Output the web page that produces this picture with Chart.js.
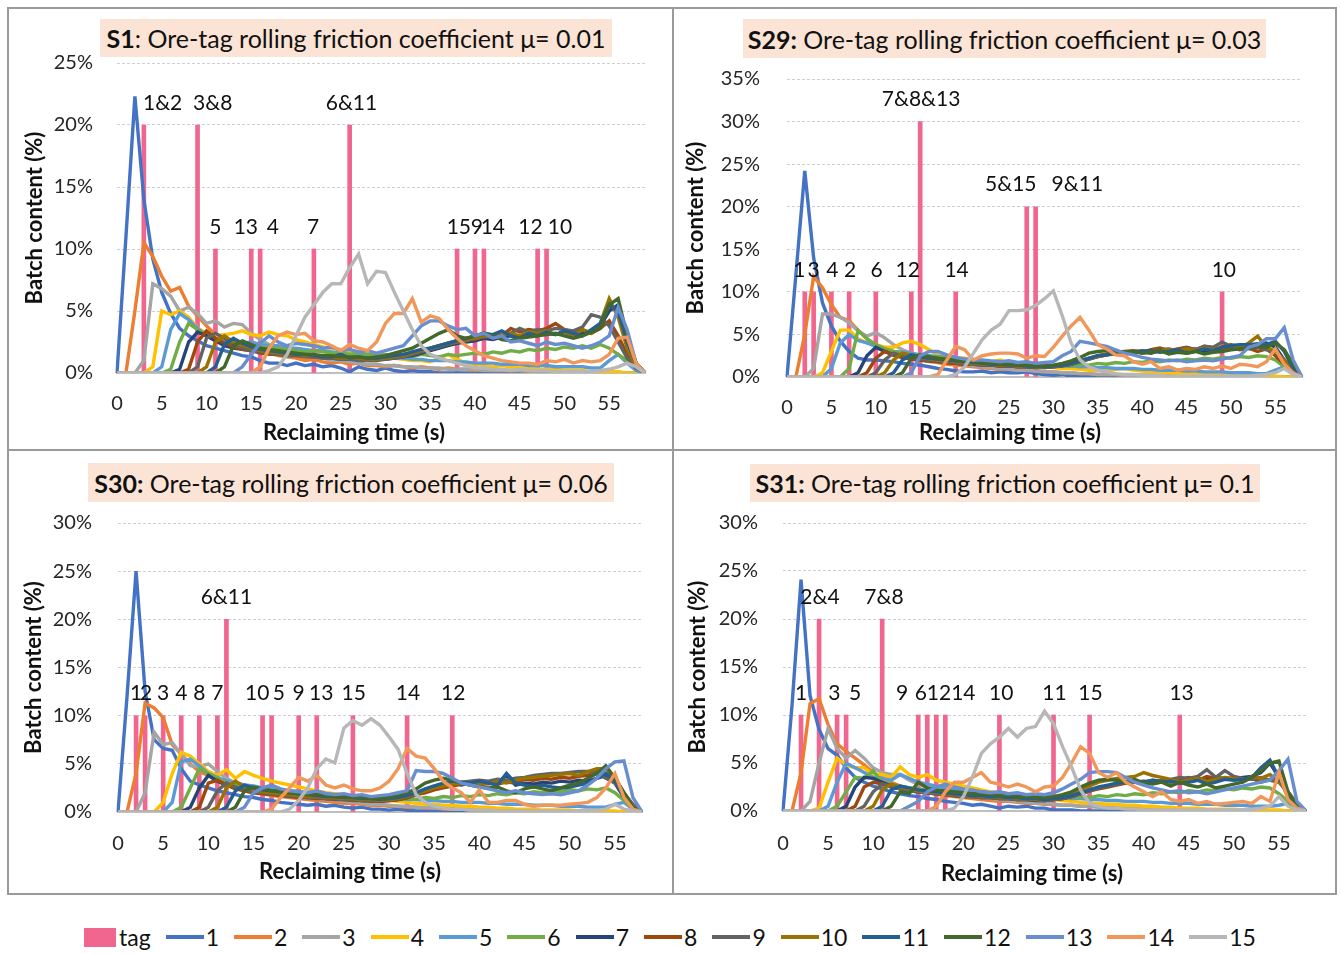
<!DOCTYPE html>
<html>
<head>
<meta charset="utf-8">
<script src="https://cdn.jsdelivr.net/npm/chart.js@4.4.1/dist/chart.umd.min.js"></script>
<style>
  body { margin: 0; width: 1341px; height: 954px; background: #fff; position: relative; overflow: hidden; font-family: Lato, sans-serif; }
  .frame { position: absolute; border: 2px solid #9a9a9a; box-sizing: border-box; }
  canvas { position: absolute; }
  .title { position: absolute; background: #FBE4D5; color: #111; font-size: 25px; white-space: nowrap;
           display: flex; align-items: center; justify-content: center; }
  .xt { position: absolute; width: 300px; margin-left: -150px; text-align: center; font-weight: bold; font-size: 22px;
        color: #111; line-height: 26px; margin-top: -13px; }
  #legend { position: absolute; left: 84px; top: 922px; height: 30px; display: flex; align-items: center; font-size: 23px; color: #111; }
  .sq { display: inline-block; width: 32px; height: 19px; margin-right: 3px; }
  .ln { display: inline-block; width: 38px; height: 4px; margin: 0 2px 0 15px; }
</style>
</head>
<body>
<div class="frame" style="left:7px;top:7px;width:667px;height:444px"></div>
<div class="frame" style="left:672px;top:7px;width:665px;height:444px"></div>
<div class="frame" style="left:7px;top:449px;width:667px;height:446px"></div>
<div class="frame" style="left:672px;top:449px;width:665px;height:446px"></div>

<canvas id="c1" width="664" height="441" style="left:8px;top:8px"></canvas>
<canvas id="c2" width="663" height="441" style="left:673px;top:8px"></canvas>
<canvas id="c3" width="664" height="443" style="left:8px;top:450px"></canvas>
<canvas id="c4" width="663" height="443" style="left:673px;top:450px"></canvas>

<div class="title" style="left:100px;top:19px;width:512px;height:38px"><span><b>S1</b>: Ore-tag rolling friction coefficient μ= 0.01</span></div>
<div class="title" style="left:743px;top:19px;width:523px;height:39px"><span><b>S29:</b> Ore-tag rolling friction coefficient μ= 0.03</span></div>
<div class="title" style="left:88px;top:463px;width:526px;height:39px"><span><b>S30:</b> Ore-tag rolling friction coefficient μ= 0.06</span></div>
<div class="title" style="left:750px;top:464px;width:510px;height:38px"><span><b>S31:</b> Ore-tag rolling friction coefficient μ= 0.1</span></div>

<div class="xt" style="left:354px;top:432px">Reclaiming time (s)</div>
<div class="xt" style="left:1010px;top:432px">Reclaiming time (s)</div>
<div class="xt" style="left:350px;top:871px">Reclaiming time (s)</div>
<div class="xt" style="left:1032px;top:873px">Reclaiming time (s)</div>

<div id="legend"></div>

<script>
// categories (reclaiming time, s)
const times60 = [0,1,2,3,4,5,6,7,8,9,10,11,12,13,14,15,16,17,18,19,20,21,22,23,24,25,26,27,28,29,
  30,31,32,33,34,35,36,37,38,39,40,41,42,43,44,45,46,47,48,49,50,51,52,53,54,55,56,57,58,59];
const times59 = [0,1,2,3,4,5,6,7,8,9,10,11,12,13,14,15,16,17,18,19,20,21,22,23,24,25,26,27,28,29,
  30,31,32,33,34,35,36,37,38,39,40,41,42,43,44,45,46,47,48,49,50,51,52,53,54,55,56,57,58];

const seriesNames = ['1','2','3','4','5','6','7','8','9','10','11','12','13','14','15'];
const seriesColors = ['#4472C4','#ED7D31','#A5A5A5','#FFC000','#5B9BD5','#70AD47','#264478','#9E480E',
  '#636363','#997300','#255E91','#43682B','#698ED0','#F1975A','#B7B7B7'];
const TAG_COLOR = '#F0668F';

// ---------- S1 (mu = 0.01) ----------
const S1_1 = [0,11,22.3,14,9.2,6.5,4.8,3.6,3.0,2.6, 2.2,2.0,1.8,1.6,1.4,1.3,1.0,0.8,0.8,0.6,
  0.8,0.6,0.7,0.5,0.6,0.4,0.1,0.5,0.3,0.2, 0.4,0.2,0.1,0.2,0.1,0.1,0,0,0,0, 0,0,0,0,0,0,0,0,0,0, 0,0,0,0,0,0,0,0,0,0];
const S1_2 = [0,0,5,10.5,9.4,7.8,6.6,6.9,5.4,4.6, 3.8,3.1,2.6,2.2,2.0,1.9,1.7,1.6,1.4,1.3,
  1.2,1.0,1.1,0.9,0.8,0.9,0.7,0.8,0.6,0.6, 0.5,0.6,0.5,0.4,0.5,0.4,0.3,0.4,0.3,0.3,
  0.2,0.3,0.2,0.2,0.2,0.2,0.1,0.2,0.1,0.1, 0.1,0.1,0.1,0.1,0.1,0.1,0,0,0,0];
const S1_3 = [0,0,0,1.0,7.2,6.8,6.2,5.0,5.3,4.8, 4.0,4.2,3.7,4.0,3.9,3.2,2.7,2.3,2.0,1.8,
  1.6,1.5,1.3,1.2,1.0,1.0,0.9,0.8,0.7,0.7, 0.6,0.6,0.5,0.5,0.4,0.4,0.4,0.3,0.3,0.3,
  0.3,0.2,0.2,0.2,0.2,0.2,0.2,0.1,0.1,0.1, 0.1,0.1,0.1,0.1,0.1,0.1,0,0,0,0];
const S1_4 = [0,0,0,0,0.5,5.0,4.7,5.0,4.5,3.6, 3.2,3.0,3.1,3.2,3.4,3.1,3.0,3.3,3.1,3.0,
  2.7,2.5,2.3,2.1,2.0,1.9,1.7,1.6,1.5,1.4, 1.3,1.2,1.1,1.0,1.0,0.9,1.2,1.5,1.1,0.8,
  0.7,0.6,0.5,0.6,0.5,0.4,0.4,0.3,0.3,0.3, 0.2,0.2,0.2,0.1,0.1,0.1,0.1,0,0,0];
const S1_5 = [0,0,0,0,0,0.5,3.5,4.8,4.3,3.6, 3.0,2.7,2.5,2.6,2.4,2.5,2.3,2.2,2.2,2.0,
  2.0,1.9,1.8,1.8,1.7,1.6,1.5,1.5,1.4,1.3, 1.3,1.2,1.2,1.1,1.1,1.0,1.0,1.0,0.9,0.9,
  0.8,0.8,0.8,0.7,0.7,0.7,0.6,0.6,0.6,0.5, 0.5,0.5,0.5,0.4,0.4,1.0,1.5,0.8,0.2,0];
const S1_6 = [0,0,0,0,0,0,0.3,2.5,4.0,3.5, 3.0,2.6,2.4,2.2,2.4,2.2,2.1,2.0,2.0,1.9,
  1.8,1.7,1.8,1.7,1.6,1.6,1.5,1.6,1.5,1.4, 1.5,1.4,1.4,1.3,1.5,1.4,1.3,1.5,1.4,1.5,
  1.6,1.5,1.7,1.6,1.8,1.7,1.9,1.8,2.0,1.9, 2.1,2.0,2.2,2.0,2.3,2.0,1.5,1.0,0.5,0];
const S1_7 = [0,0,0,0,0,0,0,0.3,2.5,3.3, 3.0,2.6,2.2,2.0,1.9,1.8,1.7,1.6,1.6,1.5,
  1.5,1.4,1.4,1.3,1.3,1.2,1.2,1.2,1.1,1.1, 1.1,1.2,1.3,1.4,1.6,1.8,2.0,2.2,2.4,2.5,
  2.6,2.8,2.7,2.9,3.0,2.8,3.1,3.0,3.2,3.1, 3.3,3.0,3.2,3.4,3.8,5.0,5.5,3.0,0.8,0];
const S1_8 = [0,0,0,0,0,0,0,0,0.3,2.5, 3.4,2.8,2.4,2.1,1.9,1.8,1.6,1.5,1.5,1.4,
  1.4,1.3,1.3,1.2,1.2,1.1,1.1,1.1,1.2,1.2, 1.3,1.4,1.5,1.6,1.8,2.0,2.2,2.4,2.6,2.8,
  2.7,3.0,2.9,3.0,3.6,3.3,3.5,3.4,3.6,4.0, 3.5,3.3,3.5,3.2,3.6,4.2,3.0,1.5,0.5,0];
const S1_9 = [0,0,0,0,0,0,0,0,0,0.5, 2.8,3.2,2.8,2.3,2.0,1.8,1.7,1.6,1.5,1.4,
  1.4,1.3,1.3,1.2,1.2,1.1,1.1,1.0,1.0,1.0, 1.1,1.2,1.3,1.5,1.7,1.9,2.1,2.3,2.5,2.6,
  2.8,2.9,3.0,3.1,3.2,3.6,3.3,3.5,3.4,3.6, 3.5,3.4,3.7,4.7,4.5,3.8,2.5,1.2,0.4,0];
const S1_10 = [0,0,0,0,0,0,0,0,0,0, 0.5,2.5,3.0,2.5,2.2,2.0,1.8,1.7,1.6,1.5,
  1.5,1.4,1.4,1.3,1.3,1.2,1.2,1.2,1.1,1.1, 1.2,1.3,1.4,1.6,1.8,2.0,2.2,2.4,2.5,2.7,
  2.8,3.0,2.9,3.1,3.2,3.0,3.3,3.2,3.4,3.1, 3.3,3.0,3.5,3.2,4.0,6.0,4.5,2.0,0.5,0];
const S1_11 = [0,0,0,0,0,0,0,0,0,0, 0,0.5,2.3,2.8,2.4,2.1,1.9,1.8,1.7,1.6,
  1.5,1.5,1.4,1.3,1.3,1.5,1.2,1.3,1.2,1.2, 1.3,1.4,1.5,1.7,1.9,2.0,2.2,2.4,2.6,2.8,
  3.0,3.2,3.1,3.4,3.0,2.8,3.2,3.0,3.3,3.1, 3.4,3.2,3.0,3.5,4.0,5.5,5.0,2.5,0.8,0];
const S1_12 = [0,0,0,0,0,0,0,0,0,0, 0,0,0.5,2.2,2.6,2.3,2.0,1.9,1.8,1.7,
  1.6,1.5,1.5,1.4,1.4,1.3,1.3,1.3,1.2,1.3, 1.4,1.6,1.8,2.0,2.4,2.8,3.2,3.5,3.0,2.8,
  3.0,3.2,3.0,2.7,2.6,2.8,2.9,3.0,3.1,3.2, 3.0,2.8,3.0,3.3,3.6,5.5,6.0,3.0,0.8,0];
const S1_13 = [0,0,0,0,0,0,0,0,0,0, 0,0,0,0,0.5,1.5,2.4,3.0,2.5,2.2,
  2.4,2.3,2.2,2.0,2.1,1.8,1.9,1.7,1.8,1.6, 1.8,2.0,2.2,3.0,3.8,4.2,4.2,3.8,3.5,3.6,
  3.0,3.2,2.8,3.0,2.5,2.6,2.4,2.2,2.5,2.3, 2.4,2.2,2.0,2.2,2.5,3.0,5.3,3.5,0.8,0];
const S1_14 = [0,0,0,0,0,0,0,0,0,0, 0,0,0,0,0,0,0.5,2.0,3.0,3.3,
  3.1,3.2,2.6,2.5,2.2,1.8,2.3,2.0,1.8,2.5, 4.0,4.8,4.8,6.0,4.1,4.6,4.4,3.5,2.8,2.2,
  1.8,1.4,1.2,1.0,0.9,0.8,0.8,0.7,1.0,0.9, 1.1,0.8,1.0,0.9,1.0,1.5,2.8,2.9,0.8,0];
const S1_15 = [0,0,0,0,0,0,0,0,0,0, 0,0,0,0,0,0,0,0.2,0.5,1.5,
  3.0,4.5,5.5,6.5,7.2,7.2,8.5,9.6,7.2,8.2, 8.1,6.5,5.0,3.5,2.2,1.5,1.2,1.0,0.8,0.6,
  0.4,0.4,0.3,0.3,0.2,0.3,0.2,0.2,0.2,0.1, 0.1,0.1,0.1,0.1,0.2,0.3,0.5,0.8,0.5,0];
const S1_tagAt = [3,9,11,15,16,22,26,38,40,41,47,48];
const S1_tagVal = [20,20,10,10,10,10,20,10,10,10,10,10];
const S1_lblText = ['1&2','3&8','5','13','4','7','6&11','15','9','14','12','10'];
const S1_lblAt = [5.1,10.7,11,14.4,17.4,21.9,26.2,38.2,40.2,42.0,46.2,49.5];
const S1_lblLevel = [20,20,10,10,10,10,20,10,10,10,10,10];

// ---------- S29 (mu = 0.03) ----------
const S29_1 = [0,12,24.2,14,8.7,6.0,4.2,3.0,2.2,2.0, 2.0,1.9,1.8,1.6,1.5,1.4,1.2,1.0,0.9,0.7,
  0.6,0.6,0.7,0.5,0.6,0.5,0.5,0.6,0.4,0.3, 0.2,0.3,0.1,0.2,0.1,0,0,0,0,0, 0,0,0,0,0,0,0,0,0,0, 0,0,0,0,0,0,0,0,0];
const S29_2 = [0,0,5.0,11.8,10.5,8.5,7.0,6.6,5.5,4.5, 3.6,3.0,2.6,2.3,2.1,2.0,1.8,1.7,1.5,1.4,
  1.3,1.2,1.1,1.0,0.9,0.9,0.8,0.8,0.7,0.6, 0.6,0.5,0.5,0.4,0.4,0.3,0.3,0.3,0.2,0.2,
  0.2,0.2,0.1,0.2,0.1,0.1,0.1,0.1,0.1,0.1, 0.1,0.1,0,0,0,0,0,0,0];
const S29_3 = [0,0,0,1.0,7.4,7.4,7.0,6.4,5.4,4.8, 5.2,4.6,3.8,3.2,2.8,2.5,2.2,2.0,1.8,1.6,
  1.5,1.3,1.2,1.1,1.0,0.9,0.8,0.8,0.7,0.6, 0.6,0.5,0.5,0.4,0.4,0.3,0.3,0.3,0.2,0.2,
  0.2,0.2,0.2,0.1,0.1,0.1,0.1,0.1,0.1,0.1, 0.1,0.1,0.1,0,0,0,0,0,0];
const S29_4 = [0,0,0,0,0.5,3.0,5.5,5.5,4.5,4.0, 3.8,3.5,3.5,4.0,4.2,3.8,3.2,2.6,2.5,2.3,
  2.2,2.0,1.9,1.8,2.0,1.6,1.5,1.4,1.3,1.2, 1.1,1.0,1.0,0.9,0.8,0.8,0.7,0.9,1.0,0.8,
  0.7,0.6,0.5,0.5,0.4,0.4,0.3,0.3,0.3,0.5, 0.4,0.2,0.2,0.1,0.1,0.1,0,0,0];
const S29_5 = [0,0,0,0,0,1.0,4.0,5.0,4.3,4.0, 3.6,3.3,3.0,2.9,2.8,2.6,2.5,2.4,2.3,2.2,
  2.1,2.0,1.9,1.8,1.8,1.7,1.6,1.5,1.5,1.4, 1.4,1.3,1.3,1.2,1.2,1.1,1.1,1.0,1.0,1.0,
  0.9,0.9,0.8,0.8,0.8,0.7,0.7,0.6,0.6,0.6, 0.5,0.5,0.5,0.4,0.4,0.8,1.2,0.4,0];
const S29_6 = [0,0,0,0,0,0,0,1.0,5.5,4.5, 3.8,3.3,3.0,2.8,2.6,2.5,2.4,2.3,2.2,2.1,
  2.0,1.9,1.8,1.7,1.7,1.6,1.5,1.5,1.4,1.4, 1.3,1.4,1.3,1.5,1.4,1.6,1.5,1.7,1.6,1.8,
  1.7,1.9,1.8,2.0,1.9,2.1,2.0,2.2,2.1,2.3, 2.2,2.4,2.3,2.5,2.4,2.0,1.2,0.4,0];
const S29_7 = [0,0,0,0,0,0,0,0,0.5,2.5, 3.5,3.0,2.6,2.3,2.1,2.0,1.9,1.8,1.7,1.6,
  1.5,1.5,1.4,1.4,1.3,1.3,1.2,1.2,1.1,1.1, 1.2,1.3,1.5,1.8,2.1,2.4,2.6,2.8,2.7,2.9,
  3.0,2.8,3.1,3.0,3.2,3.1,3.3,3.0,3.2,3.4, 3.3,3.5,3.6,3.8,4.0,3.5,2.0,0.6,0];
const S29_8 = [0,0,0,0,0,0,0,0,0,0.5, 2.2,3.0,2.6,2.3,2.1,2.0,1.9,1.8,1.7,1.6,
  1.5,1.5,1.4,1.4,1.3,1.3,1.2,1.2,1.2,1.2, 1.3,1.4,1.6,1.9,2.2,2.5,2.7,2.9,3.0,3.1,
  2.9,3.2,3.4,3.1,3.3,3.5,3.2,3.6,3.4,3.3, 3.5,3.2,3.4,3.0,3.3,2.5,1.5,0.5,0];
const S29_9 = [0,0,0,0,0,0,0,0,0,0, 0.5,2.0,2.8,2.5,2.3,2.1,2.0,1.9,1.8,1.7,
  1.6,1.5,1.5,1.4,1.4,1.3,1.3,1.2,1.2,1.1, 1.2,1.3,1.5,1.8,2.1,2.4,2.6,2.8,2.9,3.0,
  3.1,3.0,3.2,3.3,3.1,3.4,3.2,3.6,3.5,4.1, 3.6,3.4,3.3,3.5,3.2,2.8,2.0,0.8,0];
const S29_10 = [0,0,0,0,0,0,0,0,0,0, 0,0.5,2.0,2.8,2.5,2.3,2.1,2.0,1.9,1.8,
  1.7,1.6,1.5,1.5,1.4,1.4,1.3,1.3,1.2,1.2, 1.3,1.4,1.6,1.9,2.2,2.4,2.6,2.7,2.8,2.9,
  3.0,2.9,3.1,3.2,3.0,3.3,3.1,3.4,3.2,3.5, 3.8,3.4,4.0,4.8,3.5,3.0,2.0,0.6,0];
const S29_11 = [0,0,0,0,0,0,0,0,0,0, 0,0,0.5,2.0,2.6,2.4,2.2,2.1,2.0,1.9,
  1.8,1.7,1.6,1.5,1.5,1.4,1.4,1.3,1.3,1.2, 1.3,1.4,1.6,1.9,2.2,2.5,2.6,2.8,2.7,2.9,
  3.0,3.1,2.9,3.0,3.2,2.8,3.0,3.3,3.1,3.5, 3.7,3.8,3.8,3.9,3.8,4.2,3.0,1.0,0];
const S29_12 = [0,0,0,0,0,0,0,0,0,0, 0,0,0,0.5,2.2,2.6,2.4,2.2,2.1,2.0,
  1.9,1.8,1.7,1.6,1.5,1.5,1.4,1.4,1.3,1.3, 1.4,1.6,1.9,2.3,2.8,3.0,3.1,3.0,2.9,3.0,
  2.8,2.9,3.1,2.7,2.9,2.8,3.0,2.7,2.9,3.0, 3.2,3.3,3.4,3.6,3.5,4.0,3.2,1.5,0];
const S29_13 = [0,0,0,0,0,0,0,0,0,0, 0,0,0,0,0.5,2.5,3.0,3.0,2.6,2.3,
  2.1,2.0,2.0,1.9,1.8,1.9,1.7,1.8,1.6,1.7, 1.8,2.5,3.0,4.2,4.0,3.8,3.6,3.2,2.8,2.6,
  2.3,2.1,2.0,1.9,2.0,1.8,1.9,2.0,1.9,2.1, 2.3,2.5,3.5,3.8,4.5,4.5,5.8,2.0,0];
const S29_14 = [0,0,0,0,0,0,0,0,0,0, 0,0,0,0,0,0,0,0.3,2.0,3.6,
  3.2,2.0,2.5,2.7,2.8,2.8,2.7,2.2,2.5,2.4, 3.5,4.8,6.0,7.0,5.5,3.8,3.3,2.6,2.5,1.8,
  1.5,1.8,1.0,1.2,0.8,1.0,0.9,1.2,1.0,1.3, 1.0,1.5,1.4,1.2,1.8,3.3,1.5,0.5,0];
const S29_15 = [0,0,0,0,0,0,0,0,0,0, 0,0,0,0,0,0,0,0,0,0.3,
  1.2,2.8,4.4,5.5,6.2,7.8,7.8,7.9,8.4,9.2, 10.1,7.2,4.0,2.0,1.2,0.8,0.6,0.4,0.3,0.3,
  0.2,0.2,0.2,0.1,0.1,0.1,0.1,0.1,0.1,0.1, 0.1,0.1,0.1,0.2,0.3,0.5,1.0,0.3,0];
const S29_tagAt = [2,3,5,7,10,14,15,19,27,28,49];
const S29_tagVal = [10,10,10,10,10,10,30,10,20,20,10];
const S29_lblText = ['1','3','4','2','6','12','7&8&13','14','5&15','9&11','10'];
const S29_lblAt = [1.4,3.0,5.1,7.1,10.1,13.6,15.1,19.1,25.2,32.7,49.2];
const S29_lblLevel = [10,10,10,10,10,10,30,10,20,20,10];

// ---------- S30 (mu = 0.06) ----------
const S30_1 = [0,12,25,12.5,7.5,6.6,6.4,4.5,3.2,2.8, 2.5,2.2,2.0,1.8,1.6,1.5,1.3,1.2,1.0,0.9,
  0.8,0.7,0.8,0.6,0.7,0.5,0.4,0.5,0.3,0.3, 0.2,0.3,0.2,0.1,0.1,0.1,0,0,0,0, 0,0,0,0,0,0,0,0,0,0, 0,0,0,0,0,0,0,0,0];
const S30_2 = [0,0,4.0,11.3,10.8,9.8,7.0,6.0,5.0,4.2, 3.8,3.2,2.8,2.5,2.2,2.0,1.9,1.7,1.6,1.5,
  1.4,1.3,1.2,1.1,1.0,0.9,0.9,0.8,0.7,0.7, 0.6,0.6,0.5,0.5,0.4,0.4,0.3,0.3,0.3,0.2,
  0.2,0.2,0.2,0.1,0.1,0.1,0.1,0.1,0.1,0.1, 0.1,0.1,0.1,0,0,0,0,0,0];
const S30_3 = [0,0,0,2.0,8.3,7.0,7.2,6.0,4.8,4.7, 5.0,4.2,3.5,3.0,2.8,2.6,2.4,2.2,2.0,1.8,
  1.7,1.5,1.4,1.3,1.2,1.1,1.0,0.9,0.8,0.8, 0.7,0.6,0.6,0.5,0.5,0.4,0.4,0.3,0.3,0.3,
  0.2,0.2,0.2,0.2,0.1,0.1,0.1,0.1,0.1,0.1, 0.1,0.1,0.1,0,0,0,0,0,0];
const S30_4 = [0,0,0,0,0,1.0,4.0,6.2,5.8,5.0, 4.2,3.8,4.4,3.5,4.2,3.8,3.5,3.2,3.0,2.8,
  2.6,2.4,2.2,2.0,1.9,1.8,1.6,1.5,1.4,1.3, 1.2,1.1,1.0,0.9,0.8,0.8,0.7,0.7,0.6,0.6,
  0.5,0.5,0.4,0.4,0.3,0.3,0.3,0.2,0.2,0.2, 0.2,0.1,0.1,0.1,0.1,0.1,0,0,0];
const S30_5 = [0,0,0,0,0,0,1.0,5.2,5.5,4.8, 4.0,3.6,3.2,3.0,2.8,2.7,2.5,2.4,2.3,2.2,
  2.1,2.0,2.1,1.9,1.8,1.7,1.7,1.6,1.5,1.5, 1.4,1.4,1.3,1.3,1.2,1.2,1.1,1.1,1.0,1.0,
  1.0,0.9,0.9,0.8,0.8,0.8,0.7,0.7,0.7,0.6, 0.6,0.6,0.5,0.5,0.5,0.8,1.0,0.3,0];
const S30_6 = [0,0,0,0,0,0,0,0.5,2.5,4.5, 4.0,3.5,3.0,2.8,2.6,2.4,2.3,2.2,2.1,2.0,
  1.9,1.8,1.8,1.7,1.6,1.6,1.5,1.5,1.4,1.4, 1.4,1.3,1.4,1.3,1.5,1.4,1.6,1.5,1.7,1.6,
  1.8,1.7,1.9,1.8,2.0,1.9,2.1,2.0,2.2,2.1, 2.3,2.2,2.4,2.3,2.5,2.0,1.2,0.4,0];
const S30_7 = [0,0,0,0,0,0,0,0,0.5,2.5, 3.8,3.2,2.8,2.5,2.3,2.1,2.0,1.9,1.8,1.7,
  1.6,1.5,1.5,1.4,1.4,1.3,1.3,1.2,1.2,1.1, 1.2,1.3,1.5,1.8,2.2,2.5,2.8,3.0,2.8,3.0,
  2.9,3.1,3.0,3.8,2.8,3.0,2.9,3.1,3.0,3.2, 3.1,3.3,3.2,3.5,3.8,3.0,1.5,0.5,0];
const S30_8 = [0,0,0,0,0,0,0,0,0,0.5, 3.0,3.3,2.8,2.4,2.2,2.0,1.9,1.8,1.7,1.6,
  1.5,1.5,1.4,1.4,1.3,1.3,1.2,1.2,1.1,1.1, 1.2,1.3,1.5,1.8,2.0,2.3,2.5,2.7,2.9,3.0,
  2.8,3.0,2.9,3.1,3.0,3.4,3.3,3.5,3.4,3.6, 3.5,3.7,3.8,4.2,4.0,3.5,2.0,0.6,0];
const S30_9 = [0,0,0,0,0,0,0,0,0,0, 0.5,2.2,3.0,2.6,2.3,2.1,2.0,1.9,1.8,1.7,
  1.6,1.5,1.5,1.4,1.4,1.3,1.3,1.2,1.2,1.2, 1.3,1.4,1.6,1.9,2.2,2.5,2.8,3.0,3.1,3.2,
  3.3,3.2,3.4,3.3,3.5,3.6,3.8,3.9,4.0,4.0, 4.1,4.2,4.2,4.0,3.5,3.0,2.0,0.8,0];
const S30_10 = [0,0,0,0,0,0,0,0,0,0, 0,0.5,2.5,3.2,2.6,2.3,2.1,2.0,1.9,1.8,
  1.7,1.6,1.6,1.5,1.5,1.4,1.4,1.3,1.3,1.2, 1.3,1.4,1.6,1.9,2.2,2.5,2.7,2.9,3.0,2.8,
  3.0,2.9,3.2,3.0,3.3,3.5,3.6,3.7,3.8,3.9, 4.0,3.8,4.2,4.5,4.5,3.5,2.0,0.6,0];
const S30_11 = [0,0,0,0,0,0,0,0,0,0, 0,0,0.5,2.2,2.8,2.5,2.3,2.2,2.1,2.0,
  1.9,1.8,1.7,1.6,1.6,1.5,1.5,1.4,1.4,1.3, 1.4,1.5,1.7,2.0,2.4,2.7,3.0,3.2,3.1,3.0,
  3.2,3.0,2.8,4.0,3.0,2.8,2.6,2.8,2.6,2.5, 2.6,2.8,3.0,3.5,4.0,3.2,1.8,0.5,0];
const S30_12 = [0,0,0,0,0,0,0,0,0,0, 0,0,0,0.5,2.2,2.6,2.4,2.2,2.1,2.0,
  1.9,1.8,1.8,1.7,1.6,1.6,1.5,1.5,1.4,1.4, 1.5,1.7,2.0,2.4,3.0,3.3,3.5,3.3,3.0,2.8,
  2.6,2.5,2.6,2.2,2.0,2.4,2.6,2.4,2.2,2.5, 2.8,3.0,3.5,4.0,4.8,3.5,2.0,0.5,0];
const S30_13 = [0,0,0,0,0,0,0,0,0,0, 0,0,0,0,0.5,2.0,2.5,2.8,2.4,2.2,
  2.1,2.0,2.2,1.9,1.8,1.9,1.7,1.8,1.6,1.7, 1.8,2.0,2.2,4.3,4.2,4.2,4.0,3.5,3.0,2.8,
  2.6,2.4,2.2,2.0,2.2,2.0,1.9,1.8,1.9,1.8, 2.0,2.2,2.8,3.5,4.5,5.2,5.3,1.5,0];
const S30_14 = [0,0,0,0,0,0,0,0,0,0, 0,0,0,0,0,0,0,0.3,1.5,2.5,
  3.6,3.2,3.8,2.8,2.5,2.8,2.4,2.2,2.2,2.5, 3.2,4.5,6.6,5.8,5.6,4.5,3.2,2.5,2.0,1.0,
  2.3,1.0,1.0,1.2,1.2,0.8,0.6,0.7,0.7,0.7, 0.8,0.9,1.0,1.5,2.5,4.0,1.5,0.3,0];
const S30_15 = [0,0,0,0,0,0,0,0,0,0, 0,0,0,0,0,0,0,0,0,0.3,
  1.2,2.5,4.5,5.5,5.1,8.7,9.5,9.0,9.7,9.0, 7.8,6.5,4.0,1.8,1.0,0.6,0.4,0.3,0.3,0.2,
  0.2,0.2,0.1,0.1,0.1,0.1,0.1,0.1,0.1,0.1, 0.1,0.1,0.2,0.2,0.3,0.8,0.3,0.1,0];
const S30_tagAt = [2,3,5,7,9,11,12,16,17,20,22,26,32,37];
const S30_tagVal = [10,10,10,10,10,10,20,10,10,10,10,10,10,10];
const S30_lblText = ['1','2','3','4','8','7','6&11','10','5','9','13','15','14','12'];
const S30_lblAt = [2.0,3.1,5.0,7.0,9.0,11.0,12.0,15.4,17.8,20.0,22.5,26.1,32.1,37.1];
const S30_lblLevel = [10,10,10,10,10,10,20,10,10,10,10,10,10,10];

// ---------- S31 (mu = 0.1) ----------
const S31_1 = [0,11,24.1,12,8.5,6.5,5.8,4.5,3.5,3.0, 2.6,2.3,2.0,1.8,1.6,1.5,1.3,1.2,1.0,0.9,
  0.8,0.6,0.7,0.5,0.3,0.5,0.4,0.5,0.3,0.3, 0.1,0.1,0.1,0,0,0,0,0,0,0, 0,0,0,0,0,0,0,0,0,0, 0,0,0,0,0,0,0,0,0];
const S31_2 = [0,0,4.0,11.2,11.7,9.0,7.0,6.2,5.5,4.8, 4.0,3.4,3.0,2.6,2.3,2.1,1.9,1.8,1.6,1.5,
  1.4,1.3,1.2,1.1,1.0,1.0,0.9,0.8,0.8,0.7, 0.7,0.6,0.6,0.5,0.5,0.4,0.4,0.3,0.3,0.3,
  0.2,0.2,0.2,0.2,0.1,0.1,0.1,0.1,0.1,0.1, 0.1,0.1,0.1,0,0,0,0,0,0];
const S31_3 = [0,0,0,1.0,5.0,8.6,6.5,5.5,6.3,5.5, 4.5,4.0,3.8,3.8,3.2,2.8,2.5,2.2,2.0,1.8,
  1.7,1.5,1.4,1.3,1.2,1.1,1.0,0.9,0.8,0.8, 0.7,0.6,0.6,0.5,0.5,0.4,0.4,0.3,0.3,0.3,
  0.2,0.2,0.2,0.2,0.1,0.1,0.1,0.1,0.1,0.1, 0.1,0.1,0.1,0,0,0,0,0,0];
const S31_4 = [0,0,0,0,0.3,3.0,5.5,4.8,4.5,4.5, 3.8,3.8,3.5,4.6,3.8,3.5,3.8,3.2,3.0,2.8,
  2.6,2.4,2.2,2.0,1.9,1.8,1.6,1.5,1.4,1.3, 1.2,1.1,1.0,0.9,0.8,0.8,0.7,0.7,0.6,0.6,
  0.5,0.5,0.4,0.4,0.3,0.3,0.3,0.2,0.2,0.2, 0.2,0.1,0.1,0.1,0.1,0.1,0,0,0];
const S31_5 = [0,0,0,0,0,0.5,3.0,5.0,4.5,4.0, 3.5,3.4,3.2,3.8,3.4,3.0,2.8,2.6,2.4,2.3,
  2.2,2.1,2.0,1.9,1.8,1.8,1.7,1.6,1.5,1.5, 1.4,1.4,1.3,1.3,1.2,1.2,1.1,1.1,1.0,1.0,
  1.0,0.9,0.9,0.8,0.8,0.8,0.7,0.7,0.7,0.6, 0.6,0.6,0.5,0.5,0.5,0.6,0.8,0.3,0];
const S31_6 = [0,0,0,0,0,0,0.5,2.0,3.5,3.4, 4.2,3.0,2.8,2.6,2.4,2.3,2.2,2.1,2.0,1.9,
  1.8,1.8,1.7,1.6,1.6,1.5,1.5,1.4,1.4,1.3, 1.4,1.3,1.4,1.5,1.4,1.6,1.5,1.7,1.6,1.8,
  1.7,1.9,1.8,2.0,1.9,2.1,2.0,2.2,2.1,2.3, 2.2,2.4,2.3,2.5,2.4,1.8,1.0,0.3,0];
const S31_7 = [0,0,0,0,0,0,0,0.5,2.5,3.5, 3.4,3.0,2.6,2.3,2.1,2.0,1.9,1.8,1.7,1.6,
  1.5,1.5,1.4,1.4,1.3,1.3,1.2,1.2,1.1,1.1, 1.2,1.3,1.5,1.8,2.1,2.4,2.6,2.8,2.9,3.0,
  3.1,3.0,3.2,3.1,3.3,3.2,3.4,3.3,3.5,3.4, 3.3,3.5,3.6,4.0,5.0,3.5,1.5,0.5,0];
const S31_8 = [0,0,0,0,0,0,0,0,0.5,2.5, 3.0,2.8,2.5,2.3,2.1,2.0,1.9,1.8,1.7,1.6,
  1.5,1.5,1.4,1.4,1.3,1.3,1.2,1.2,1.2,1.1, 1.2,1.3,1.5,1.8,2.1,2.3,2.5,2.7,2.9,3.0,
  2.8,3.0,3.2,3.0,3.3,3.5,3.2,3.6,3.4,3.3, 3.5,3.2,3.4,3.0,3.3,3.0,2.0,0.6,0];
const S31_9 = [0,0,0,0,0,0,0,0,0,0.5, 2.0,2.8,2.6,2.3,2.1,2.0,1.9,1.8,1.7,1.6,
  1.5,1.5,1.4,1.4,1.3,1.3,1.2,1.2,1.2,1.1, 1.2,1.3,1.5,1.8,2.1,2.4,2.6,2.8,3.0,3.1,
  3.0,3.2,3.1,3.3,3.5,3.4,3.6,4.3,3.5,4.2, 3.6,3.4,3.3,3.5,3.2,3.0,2.0,0.8,0];
const S31_10 = [0,0,0,0,0,0,0,0,0,0, 0.5,2.2,2.8,2.5,2.3,2.1,2.0,1.9,1.8,1.7,
  1.6,1.6,1.5,1.5,1.4,1.4,1.3,1.3,1.2,1.2, 1.3,1.5,1.8,2.2,2.6,3.0,3.2,3.4,3.5,3.6,
  4.0,3.7,3.5,3.3,3.0,3.2,3.4,3.1,3.3,3.5, 3.4,3.2,3.6,3.4,3.8,3.0,2.0,0.6,0];
const S31_11 = [0,0,0,0,0,0,0,0,0,0, 0,0.5,2.2,2.6,2.4,2.2,2.1,2.0,1.9,1.8,
  1.7,1.6,1.6,1.5,1.5,1.4,1.4,1.3,1.3,1.2, 1.3,1.4,1.6,1.9,2.2,2.5,2.7,2.9,3.0,3.1,
  3.0,3.2,3.0,3.1,2.9,3.0,3.2,2.8,3.0,3.3, 3.2,3.3,3.5,4.5,5.3,3.5,1.5,0.5,0];
const S31_12 = [0,0,0,0,0,0,0,0,0,0, 0,0,0.5,2.0,1.8,3.0,2.4,2.2,2.1,2.0,
  1.9,1.8,1.8,1.7,1.6,1.6,1.5,1.5,1.4,1.4, 1.5,1.7,2.0,2.5,2.9,3.2,3.3,3.2,3.0,3.3,
  2.9,2.8,3.0,2.6,3.0,2.7,2.5,2.8,2.4,2.6, 2.8,3.0,3.5,4.2,5.0,5.2,2.0,0.5,0];
const S31_13 = [0,0,0,0,0,0,0,0,0,0, 0,0,0,0,0.5,1.0,2.0,2.5,2.8,2.5,
  2.3,2.2,2.0,1.9,2.0,1.8,1.9,1.7,1.8,1.7, 1.9,2.3,2.8,3.3,4.0,4.1,4.1,4.0,3.5,3.0,
  2.7,2.4,2.2,2.0,2.1,1.9,2.0,1.8,2.0,2.2, 2.4,2.6,2.8,3.0,3.2,4.2,5.4,1.0,0];
const S31_14 = [0,0,0,0,0,0,0,0,0,0, 0,0,0,0,0,0,0,0.5,2.0,3.0,
  3.0,3.5,4.0,3.0,2.8,2.5,2.8,2.5,2.0,2.5, 2.6,3.5,5.0,6.7,6.0,4.0,3.5,4.0,3.0,2.5,
  2.0,1.5,2.0,1.2,1.0,1.2,0.8,1.0,0.7,0.8, 0.9,1.0,0.8,1.5,1.0,4.0,1.2,0.3,0];
const S31_15 = [0,0,0,0,0,0,0,0,0,0, 0,0,0,0,0,0,0,0,0,0.3,
  1.5,3.5,6.0,7.0,7.7,8.6,7.7,8.6,8.8,10.4, 9.1,6.7,4.6,2.2,0.8,0.5,0.3,0.3,0.2,0.2,
  0.1,0.1,0.1,0.1,0.1,0.1,0.1,0.1,0.1,0.1, 0.1,0.1,0.2,0.3,0.5,1.5,0.5,0.1,0];
const S31_tagAt = [2,4,6,7,11,15,16,17,18,24,30,34,44];
const S31_tagVal = [10,20,10,10,20,10,10,10,10,10,10,10,10];
const S31_lblText = ['1','2&4','3','5','7&8','9','6','12','14','10','11','15','13'];
const S31_lblAt = [2.0,4.1,5.7,8.0,11.2,13.2,15.3,17.3,20.0,24.2,30.1,34.1,44.2];
const S31_lblLevel = [10,20,10,10,20,10,10,10,10,10,10,10,10];

// text above the tag bars
function tagLabels(text, at, level) {
  return {
    id: 'tagLabels',
    afterDatasetsDraw(chart) {
      const { ctx, scales: { x, y } } = chart;
      ctx.save();
      ctx.font = '21px Lato';
      ctx.fillStyle = '#111';
      ctx.textAlign = 'center';
      ctx.textBaseline = 'middle';
      text.forEach((t, i) => {
        ctx.fillText(t, x.getPixelForValue(at[i]), y.getPixelForValue(level[i]) - 22);
      });
      ctx.restore();
    }
  };
}

function makePanel(id, times, series, tagAt, tagVal, lblText, lblAt, lblLevel, yMax, lay) {
  const tagData = times.map(t => {
    const k = tagAt.indexOf(t);
    return k < 0 ? null : tagVal[k];
  });
  const datasets = [{
    type: 'bar', label: 'tag', data: tagData, backgroundColor: TAG_COLOR,
    barThickness: 4, order: 20
  }];
  series.forEach((s, i) => datasets.push({
    type: 'line', label: seriesNames[i], data: s, borderColor: seriesColors[i],
    borderWidth: 3.4, pointRadius: 0, fill: false, tension: 0, order: 15 - i
  }));

  new Chart(document.getElementById(id), {
    type: 'bar',
    data: { labels: times, datasets },
    options: {
      responsive: false,
      animation: false,
      layout: { padding: { left: lay.L, right: lay.R, top: lay.T, bottom: lay.B } },
      plugins: { legend: { display: false }, tooltip: { enabled: false } },
      scales: {
        x: {
          type: 'category', offset: false,
          grid: { display: false, offset: false },
          border: { display: true, color: '#bfbfbf', width: 2 },
          ticks: {
            autoSkip: false, maxRotation: 0, minRotation: 0, padding: lay.xp,
            color: '#262626', font: { family: 'Lato', size: 20 },
            callback(v, i) { return i % 5 === 0 ? this.getLabelForValue(v) : ''; }
          },
          title: { display: false },
          afterFit(s) { s.height = lay.H; }
        },
        y: {
          min: 0, max: yMax,
          ticks: { stepSize: 5, padding: lay.yp, color: '#262626', font: { family: 'Lato', size: 20 },
                   callback: v => v + '%' },
          grid: { drawTicks: false, lineWidth: 1,
                  color: c => c.tick && c.tick.value === 0 ? 'rgba(0,0,0,0)' : '#cfcfcf' },
          border: { display: false, dash: [3, 2] },
          title: { display: true, text: 'Batch content (%)', color: '#111', padding: 0,
                   font: { family: 'Lato', size: 22, weight: 'bold' } },
          afterFit(s) { s.width = lay.W; }
        }
      }
    },
    plugins: [tagLabels(lblText, lblAt, lblLevel)]
  });
}

makePanel('c1', times60,
  [S1_1,S1_2,S1_3,S1_4,S1_5,S1_6,S1_7,S1_8,S1_9,S1_10,S1_11,S1_12,S1_13,S1_14,S1_15],
  S1_tagAt, S1_tagVal, S1_lblText, S1_lblAt, S1_lblLevel, 25,
  { L: 14, W: 95, R: 27, T: 55, B: 6, H: 70, xp: 11, yp: 24 });

makePanel('c2', times59,
  [S29_1,S29_2,S29_3,S29_4,S29_5,S29_6,S29_7,S29_8,S29_9,S29_10,S29_11,S29_12,S29_13,S29_14,S29_15],
  S29_tagAt, S29_tagVal, S29_lblText, S29_lblAt, S29_lblLevel, 35,
  { L: 10, W: 104, R: 34, T: 71, B: 6, H: 66, xp: 11, yp: 27 });

makePanel('c3', times59,
  [S30_1,S30_2,S30_3,S30_4,S30_5,S30_6,S30_7,S30_8,S30_9,S30_10,S30_11,S30_12,S30_13,S30_14,S30_15],
  S30_tagAt, S30_tagVal, S30_lblText, S30_lblAt, S30_lblLevel, 30,
  { L: 13, W: 97, R: 30, T: 73, B: 11, H: 70, xp: 12, yp: 26 });

makePanel('c4', times59,
  [S31_1,S31_2,S31_3,S31_4,S31_5,S31_6,S31_7,S31_8,S31_9,S31_10,S31_11,S31_12,S31_13,S31_14,S31_15],
  S31_tagAt, S31_tagVal, S31_lblText, S31_lblAt, S31_lblLevel, 30,
  { L: 12, W: 98, R: 30, T: 73, B: 9, H: 73, xp: 13, yp: 25 });

// shared legend
const legend = document.getElementById('legend');
legend.innerHTML = '<span class="sq" style="background:' + TAG_COLOR + '"></span><span>tag</span>' +
  seriesNames.map((n, i) => '<span class="ln" style="background:' + seriesColors[i] + '"></span><span>' + n + '</span>').join('');
</script>
</body>
</html>
